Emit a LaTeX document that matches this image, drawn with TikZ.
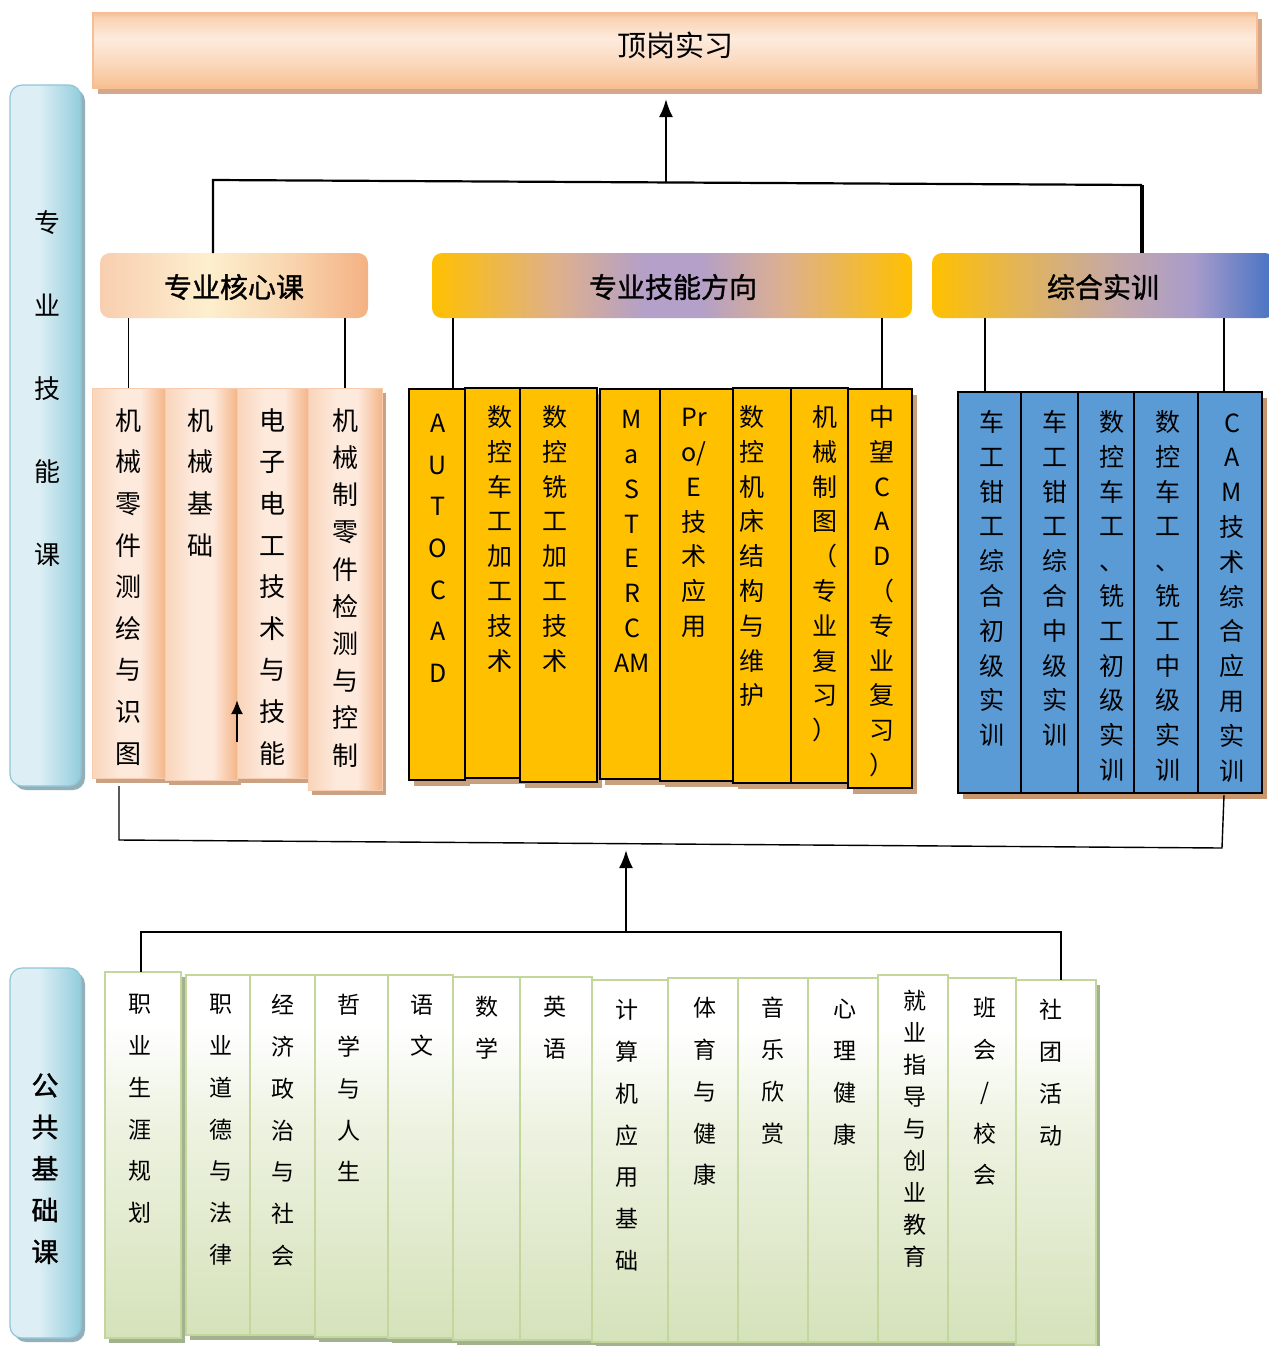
\documentclass[tikz,border=0pt]{standalone}
\usepackage{fontspec}
\setmainfont{Noto Sans CJK SC}
\newfontfamily\medfont{Noto Sans CJK SC}[FakeBold=1.2]
\usetikzlibrary{arrows.meta,shadows,fit}

\definecolor{topB}{HTML}{F8BF90}
\definecolor{topM}{HTML}{FBD9BE}
\definecolor{topL}{HTML}{FDEBDD}
\definecolor{topT}{HTML}{FAD2B2}
\definecolor{topEdge}{HTML}{F6BE96}
\definecolor{topSh}{HTML}{D5A788}
\definecolor{barL}{HTML}{DDEFF5}
\definecolor{barR}{HTML}{92CDDC}
\definecolor{barEdge}{HTML}{8FC6D6}
\definecolor{barSh}{HTML}{93AFBA}
\definecolor{coreA}{HTML}{F8CEB0}
\definecolor{coreB}{HTML}{FDEFCE}
\definecolor{coreC}{HTML}{F9D6B0}
\definecolor{coreD}{HTML}{F4B183}
\definecolor{yel}{HTML}{FFC000}
\definecolor{peach}{HTML}{DEB08C}
\definecolor{lav}{HTML}{B4A0C8}
\definecolor{zA}{HTML}{E2B45A}
\definecolor{zB}{HTML}{C4A8A8}
\definecolor{zC}{HTML}{A99CCA}
\definecolor{blu}{HTML}{4472C4}
\definecolor{oL}{HTML}{F9D4BA}
\definecolor{oM}{HTML}{FDEADD}
\definecolor{oR}{HTML}{F4B68A}
\definecolor{oEdge}{HTML}{F8CBAD}
\definecolor{oSh}{HTML}{C9A286}
\definecolor{ySh}{HTML}{C9A07E}
\definecolor{bFill}{HTML}{5B9BD5}
\definecolor{bSh}{HTML}{C8966E}
\definecolor{gTop}{HTML}{FFFFFF}
\definecolor{gMid}{HTML}{EEF3E2}
\definecolor{gBot}{HTML}{D5E2BA}
\definecolor{gEdge}{HTML}{C3D69B}
\definecolor{gSh}{HTML}{A3B28E}

\pgfdeclareverticalshading{topshade}{100bp}{color(0bp)=(topB); color(25bp)=(topB); color(42bp)=(topM); color(58bp)=(topL); color(72bp)=(topT); color(75bp)=(topEdge); color(100bp)=(topEdge)}
\pgfdeclarehorizontalshading{coreshade}{100bp}{color(0bp)=(coreA); color(25bp)=(coreA); color(45bp)=(coreB); color(60bp)=(coreC); color(75bp)=(coreD); color(100bp)=(coreD)}
\pgfdeclarehorizontalshading{skillshade}{100bp}{color(0bp)=(yel); color(25bp)=(yel); color(38bp)=(peach); color(47bp)=(lav); color(53bp)=(lav); color(62bp)=(peach); color(75bp)=(yel); color(100bp)=(yel)}
\pgfdeclarehorizontalshading{zhshade}{100bp}{color(0bp)=(yel); color(25bp)=(yel); color(38bp)=(zA); color(52bp)=(zB); color(63bp)=(zC); color(75bp)=(blu); color(100bp)=(blu)}
\pgfdeclarehorizontalshading{ocolshade}{100bp}{color(0bp)=(oL); color(25bp)=(oL); color(45bp)=(oM); color(58bp)=(oM); color(75bp)=(oR); color(100bp)=(oR)}
\pgfdeclarehorizontalshading{barshade}{100bp}{color(0bp)=(barL); color(25bp)=(barL); color(45bp)=(barL); color(75bp)=(barR); color(100bp)=(barR)}
\pgfdeclareverticalshading{gshade}{100bp}{color(0bp)=(gBot); color(25bp)=(gBot); color(55bp)=(gMid); color(68bp)=(gTop); color(100bp)=(gTop)}

\tikzset{
  boxit/.style={inner sep=0pt, outer sep=0pt},
  topbox/.style={boxit, shading=topshade, draw=topEdge, line width=0.6pt,
     drop shadow={shadow xshift=2.5pt, shadow yshift=-3pt, fill=topSh, opacity=1}},
  sidebar/.style={boxit, shading=barshade, draw=barEdge, line width=0.6pt, rounded corners=6pt,
     drop shadow={shadow xshift=2pt, shadow yshift=-2pt, fill=barSh, opacity=1}},
  catbox/.style={boxit, rounded corners=5pt, draw=none},
  ocol/.style={boxit, shading=ocolshade, draw=oEdge, line width=0.4pt,
     drop shadow={shadow xshift=2pt, shadow yshift=-2.5pt, fill=oSh, opacity=1}},
  ycol/.style={boxit, fill=yel, draw=black, line width=0.8pt,
     drop shadow={shadow xshift=2.5pt, shadow yshift=-3pt, fill=ySh, opacity=1}},
  bcol/.style={boxit, fill=bFill, draw=black, line width=0.9pt,
     drop shadow={shadow xshift=2.5pt, shadow yshift=-3pt, fill=bSh, opacity=1}},
  gcol/.style={boxit, shading=gshade, draw=gEdge, line width=0.8pt,
     drop shadow={shadow xshift=2pt, shadow yshift=-2.5pt, fill=gSh, opacity=1}},
  vt/.style={align=center, inner sep=0pt, anchor=north},
  otext/.style={vt, font=\fontsize{13}{20.8}\selectfont},
  ytext/.style={vt, font=\fontsize{12.5}{17.4}\selectfont},
  gtext/.style={vt, font=\fontsize{11.5}{20.9}\selectfont},
  cattext/.style={font=\fontsize{14}{17}\selectfont\medfont},
  conn/.style={line width=0.7pt},
  arr/.style={line width=1.2pt, -{Latex[length=9pt,width=7pt]}},
}

\begin{document}
\begin{tikzpicture}[x=0.5pt,y=-0.5pt]
\fill[white] (0,0) rectangle (1269,1346);
\useasboundingbox (0,0) rectangle (1269,1346);

% top box
\node[topbox, fit={(93,13) (1257,88)}] (top) {};
\node[font=\fontsize{14.5}{17}\selectfont] (toptxt) at (675,45) {顶岗实习};

% side bars
\node[sidebar, fit={(10,85) (81,786)}] (bar1) {};
\node[vt, font=\fontsize{13}{41.5}\selectfont] (bar1txt) at (47,210) {专\\业\\技\\能\\课};
\node[sidebar, fit={(10,968) (81,1338)}] (bar2) {};
\node[vt, font=\fontsize{13.5}{20.8}\selectfont\medfont] (bar2txt) at (45,1073) {公\\共\\基\\础\\课};

% category boxes
\node[catbox, shading=coreshade, fit={(100,253) (368,318)}] (core) {};
\node[cattext] (coretxt) at (234,287) {专业核心课};
\node[catbox, shading=skillshade, fit={(432,253) (912,318)}] (skill) {};
\node[cattext] (skilltxt) at (673,287) {专业技能方向};
\node[catbox, shading=zhshade, fit={(932,253) (1275,318)}] (zh) {};
\node[cattext] (zhtxt) at (1103,287) {综合实训};

% orange columns
\node[ocol, fit={(92,388) (165,778)}] (o1) {};
\node[ocol, fit={(165,388) (237,780)}] (o2) {};
\node[ocol, fit={(237,388) (308,778)}] (o3) {};
\node[ocol, fit={(308,388) (382,790)}] (o4) {};
\node[otext] (o1t) at (128,408) {机\\械\\零\\件\\测\\绘\\与\\识\\图};
\node[otext] (o2t) at (200,408) {机\\械\\基\\础};
\node[otext] (o3t) at (272,408) {电\\子\\电\\工\\技\\术\\与\\技\\能};
\node[otext, font=\fontsize{13}{18.6}\selectfont] (o4t) at (345,408) {机\\械\\制\\零\\件\\检\\测\\与\\控\\制};

% yellow columns
\node[ycol, fit={(409,389) (465,780)}] (y1) {};
\node[ycol, fit={(465,388) (520,778)}] (y2) {};
\node[ycol, fit={(520,388) (597,782)}] (y3) {};
\node[ycol, fit={(600,389) (660,779)}] (y4) {};
\node[ycol, fit={(660,389) (733,781)}] (y5) {};
\node[ycol, fit={(733,388) (791,783)}] (y6) {};
\node[ycol, fit={(791,388) (848,783)}] (y7) {};
\node[ycol, fit={(848,389) (912,788)}] (y8) {};
\node[ytext, font=\fontsize{12.5}{20.8}\selectfont] (y1t) at (438,414) {A\\U\\T\\O\\C\\A\\D};
\node[ytext] (y2t) at (500,405) {数\\控\\车\\工\\加\\工\\技\\术};
\node[ytext] (y3t) at (555,405) {数\\控\\铣\\工\\加\\工\\技\\术};
\node[ytext] (y4t) at (632,410) {M\\a\\S\\T\\E\\R\\C\\AM};
\node[ytext] (y5t) at (694,408) {Pr\\o/\\E\\技\\术\\应\\用};
\node[ytext] (y6t) at (752,405) {数\\控\\机\\床\\结\\构\\与\\维\\护};
\node[ytext] (y7t) at (825,405) {机\\械\\制\\图\\（\\专\\业\\复\\习\\）};
\node[ytext] (y8t) at (882,405) {中\\望\\C\\A\\D\\（\\专\\业\\复\\习\\）};

% blue columns
\node[bcol, fit={(958,392) (1021,793)}] (b1) {};
\node[bcol, fit={(1021,392) (1078,793)}] (b2) {};
\node[bcol, fit={(1078,392) (1134,793)}] (b3) {};
\node[bcol, fit={(1134,392) (1198,793)}] (b4) {};
\node[bcol, fit={(1198,392) (1262,793)}] (b5) {};
\node[ytext] (b1t) at (992,410) {车\\工\\钳\\工\\综\\合\\初\\级\\实\\训};
\node[ytext] (b2t) at (1055,410) {车\\工\\钳\\工\\综\\合\\中\\级\\实\\训};
\node[ytext] (b3t) at (1112,410) {数\\控\\车\\工\\、\\铣\\工\\初\\级\\实\\训};
\node[ytext] (b4t) at (1168,410) {数\\控\\车\\工\\、\\铣\\工\\中\\级\\实\\训};
\node[ytext] (b5t) at (1232,413) {C\\A\\M\\技\\术\\综\\合\\应\\用\\实\\训};

% green columns
\node[gcol, fit={(105,972) (181,1338)}] (g1) {};
\node[gcol, fit={(186,975) (250,1335)}] (g2) {};
\node[gcol, fit={(250,975) (315,1335)}] (g3) {};
\node[gcol, fit={(315,975) (388,1337)}] (g4) {};
\node[gcol, fit={(388,975) (453,1338)}] (g5) {};
\node[gcol, fit={(453,977) (520,1340)}] (g6) {};
\node[gcol, fit={(520,977) (592,1340)}] (g7) {};
\node[gcol, fit={(592,980) (668,1342)}] (g8) {};
\node[gcol, fit={(668,978) (738,1342)}] (g9) {};
\node[gcol, fit={(738,978) (808,1342)}] (g10) {};
\node[gcol, fit={(808,978) (878,1342)}] (g11) {};
\node[gcol, fit={(878,975) (948,1342)}] (g12) {};
\node[gcol, fit={(948,978) (1016,1342)}] (g13) {};
\node[gcol, fit={(1016,980) (1096,1345)}] (g14) {};
\node[gtext] (g1t) at (140,994) {职\\业\\生\\涯\\规\\划};
\node[gtext] (g2t) at (221,994) {职\\业\\道\\德\\与\\法\\律};
\node[gtext] (g3t) at (283,994) {经\\济\\政\\治\\与\\社\\会};
\node[gtext] (g4t) at (349,994) {哲\\学\\与\\人\\生};
\node[gtext] (g5t) at (422,994) {语\\文};
\node[gtext] (g6t) at (487,996) {数\\学};
\node[gtext] (g7t) at (555,996) {英\\语};
\node[gtext] (g8t) at (627,999) {计\\算\\机\\应\\用\\基\\础};
\node[gtext] (g9t) at (705,997) {体\\育\\与\\健\\康};
\node[gtext] (g10t) at (773,997) {音\\乐\\欣\\赏};
\node[gtext] (g11t) at (845,999) {心\\理\\健\\康};
\node[gtext, font=\fontsize{11.5}{16}\selectfont] (g12t) at (915,990) {就\\业\\指\\导\\与\\创\\业\\教\\育};
\node[gtext] (g13t) at (985,997) {班\\会\\/\\校\\会};
\node[gtext] (g14t) at (1051,999) {社\\团\\活\\动};

% upper tree
\coordinate (hl) at (213,180);
\coordinate (hr) at (1142,185);
\coordinate (ha) at (666,182);
\coordinate (hat) at (666,99);
\draw[line width=1.1pt] (core.north -| hl) -- (hl) -- (hr);
\draw[line width=1.6pt] (hr) -- (zh.north -| hr);
\draw[arr] (ha) -- (hat);

% category to columns
\coordinate (ya) at (453,388);
\coordinate (yb) at (882,388);
\coordinate (za) at (985,392);
\coordinate (zb) at (1224,392);
\draw[conn] (core.south -| o1.north) -- (o1.north);
\draw[conn] (core.south -| o4.north) -- (o4.north);
\draw[conn] (skill.south -| ya) -- (ya);
\draw[conn] (skill.south -| yb) -- (yb);
\draw[conn] (zh.south -| za) -- (za);
\draw[conn] (zh.south -| zb) -- (zb);

% small arrow in orange columns
\coordinate (sa) at (237,742);
\coordinate (sb) at (237,700);
\draw[line width=1.1pt, -{Latex[length=7pt,width=6pt]}] (sa) -- (sb);

% lower tree
\coordinate (la) at (119,840);
\coordinate (lb) at (1222,848);
\coordinate (lt) at (119,786);
\coordinate (rt) at (1224,795);
\draw[conn] (lt) -- (la) -- (lb) -- (rt);
\coordinate (lc) at (626,932);
\coordinate (ld) at (626,850);
\draw[arr] (lc) -- (ld);
\coordinate (le) at (141,932);
\coordinate (lf) at (1061,932);
\draw[conn] (g1.north -| le) -- (le) -- (lf) -- (g14.north -| lf);
\end{tikzpicture}
\end{document}
